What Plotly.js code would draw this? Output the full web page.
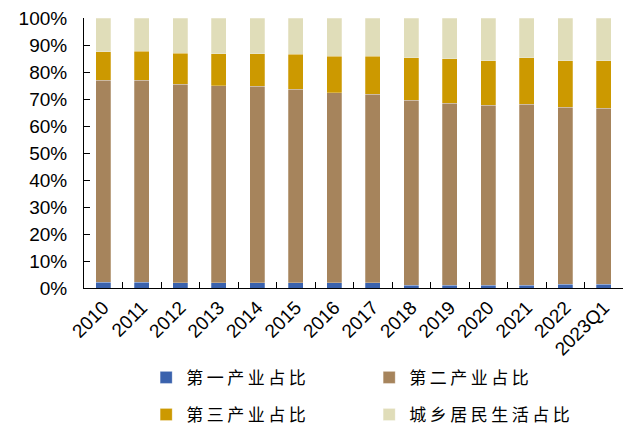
<!DOCTYPE html>
<html><head><meta charset="utf-8">
<script src="https://cdn.plot.ly/plotly-3.0.1.min.js"></script>
<style>body{margin:0;padding:0;background:#fff}#chart{width:630px;height:426px}
#chart text.legendtext{letter-spacing:3.5px !important}</style>
</head><body><div id="chart"></div>
<script>
const categories = ['2010','2011','2012','2013','2014','2015','2016','2017','2018','2019','2020','2021','2022','2023Q1'];
const primary   = [2.2, 2.2, 1.9, 1.9, 1.9, 1.9, 1.9, 1.9, 1.1, 1.1, 1.1, 1.1, 1.3, 1.3];
const secondary = [74.8, 74.7, 73.6, 73.1, 72.9, 71.8, 70.5, 69.9, 68.5, 67.3, 66.5, 66.9, 65.6, 65.2];
const tertiary  = [10.5, 10.8, 11.5, 11.8, 12.0, 12.8, 13.5, 14.1, 15.6, 16.6, 16.5, 17.2, 17.2, 17.6];
const residential = [12.5, 12.3, 13.0, 13.2, 13.2, 13.5, 14.1, 14.1, 14.8, 15.0, 15.9, 14.8, 15.9, 15.9];
const names = ['第一产业占比','第二产业占比','第三产业占比','城乡居民生活占比'];
const colors = ['#3a62ad','#a6845c','#cc9900','#e0ddb9'];
const series = [primary, secondary, tertiary, residential];
const legendIds = ['legend','legend2','legend3','legend4'];

const traces = series.map((s,i)=>({
  type:'bar', x:categories, y:s, name:names[i],
  marker:{color:colors[i], line:{color:'rgba(255,255,255,0.5)', width:0.5}},
  legend:legendIds[i], hoverinfo:'skip'
}));

const legendFont = {family:'"Noto Sans CJK SC", sans-serif', size:17, color:'#000'};
const legendPos = [[0.232,0.113],[0.586,0.113],[0.232,0.026],[0.586,0.026]];
const layout = {
  width:630, height:426,
  margin:{l:84, r:7, t:18, b:138},
  barmode:'stack', bargap:0.6,
  paper_bgcolor:'#fff', plot_bgcolor:'#fff',
  font:{family:'"Liberation Sans", Arial, sans-serif', size:19, color:'#000'},
  xaxis:{type:'category', tickangle:-45, showline:true, linecolor:'#000', linewidth:1,
         ticks:'inside', ticklen:6, tickcolor:'#000', tickson:'boundaries',
         showgrid:false, zeroline:false, tickfont:{size:19}, automargin:false},
  yaxis:{range:[0,100], dtick:10, ticksuffix:'%', showline:true, linecolor:'#000', linewidth:1,
         ticks:'inside', ticklen:6, tickcolor:'#000', showgrid:false, zeroline:false,
         tickfont:{size:19}, automargin:false, ticklabelstandoff:12},
  showlegend:true
};
legendIds.forEach((id,i)=>{
  layout[id] = {orientation:'h', xref:'container', yref:'container',
    x:legendPos[i][0], xanchor:'left', y:legendPos[i][1], yanchor:'middle',
    font:legendFont, bgcolor:'rgba(0,0,0,0)'};
});
function spaceLegend(){
  document.querySelectorAll('#chart text').forEach(el=>{
    if(names.indexOf(el.textContent.trim())>=0){
      el.style.setProperty('letter-spacing','3.5px','important');
    }
  });
  document.querySelectorAll('#chart g').forEach(g=>{
    const cls = (g.getAttribute('class')||'');
    if(/^legend\d*$/.test(cls)){
      [g, ...g.querySelectorAll('*')].forEach(el=>{
        if(el.hasAttribute('clip-path')) el.removeAttribute('clip-path');
        el.style && el.style.removeProperty('clip-path');
      });
    }
  });
}
Plotly.newPlot('chart', traces, layout, {staticPlot:true, displayModeBar:false}).then(()=>{
  spaceLegend();
  let n=0; const iv=setInterval(()=>{spaceLegend(); if(++n>40) clearInterval(iv);}, 25);
});
</script></body></html>
